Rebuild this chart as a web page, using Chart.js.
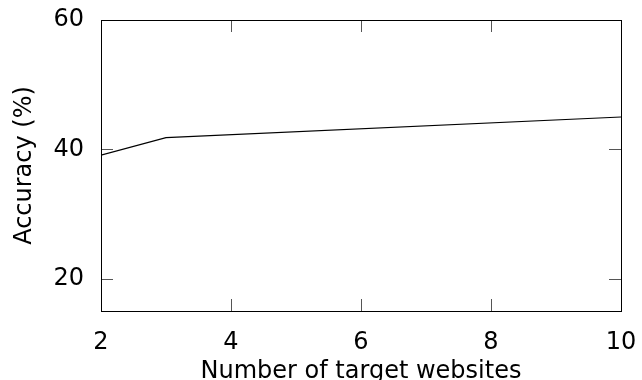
<!DOCTYPE html>
<html>
<head>
<meta charset="utf-8">
<script src="https://cdn.jsdelivr.net/npm/chart.js@4"></script>
<style>
  html, body { margin: 0; padding: 0; background: #fff; }
  #wrap { width: 642px; height: 380px; }
</style>
</head>
<body>
<div id="wrap"><canvas id="chart" width="642" height="380"></canvas></div>
<script>
// données
const websites = [2, 3, 10];
const accuracy = [39.1, 41.8, 45.0];
const xTicks = [2, 4, 6, 8, 10];
const yTicks = [20, 40, 60];

const FONT = "'DejaVu Sans', sans-serif";

// cadre + petites graduations vers l'intérieur (gnuplot style)
const frameTicks = {
  id: 'frameTicks',
  afterDraw(chart) {
    const { ctx, chartArea: a, scales: { x, y } } = chart;
    const len = 12;
    ctx.save();
    ctx.strokeStyle = '#555';
    ctx.lineWidth = 1;
    ctx.beginPath();
    xTicks.forEach(v => {
      const px = Math.round(x.getPixelForValue(v)) + 0.5;
      ctx.moveTo(px, a.bottom); ctx.lineTo(px, a.bottom - len);
      ctx.moveTo(px, a.top); ctx.lineTo(px, a.top + len);
    });
    yTicks.forEach(v => {
      const py = Math.round(y.getPixelForValue(v)) + 0.5;
      ctx.moveTo(a.left, py); ctx.lineTo(a.left + len, py);
      ctx.moveTo(a.right, py); ctx.lineTo(a.right - len, py);
    });
    ctx.stroke();
    ctx.strokeStyle = '#000';
    ctx.strokeRect(Math.round(a.left) + 0.5, Math.round(a.top) + 0.5,
      Math.round(a.right - a.left), Math.round(a.bottom - a.top));
    ctx.restore();
  }
};

new Chart(document.getElementById('chart'), {
  type: 'line',
  data: {
    datasets: [{
      data: websites.map((w, i) => ({ x: w, y: accuracy[i] })),
      borderColor: '#000',
      borderWidth: 1.2,
      pointRadius: 0,
      tension: 0,
      fill: false
    }]
  },
  options: {
    responsive: false,
    animation: false,
    layout: { padding: { top: 20, right: 21, left: 0, bottom: 0 } },
    plugins: { legend: { display: false }, tooltip: { enabled: false } },
    scales: {
      x: {
        type: 'linear',
        min: 2, max: 10,
        afterBuildTicks: s => { s.ticks = xTicks.map(v => ({ value: v })); },
        afterFit: s => { s.height = 69; s.paddingLeft = 0; s.paddingRight = 0; },
        grid: { display: false, drawTicks: false },
        border: { display: false },
        ticks: { color: '#000', font: { family: FONT, size: 24 }, padding: 17, maxRotation: 0 },
        title: {
          display: true, text: 'Number of target websites', color: '#000',
          font: { family: FONT, size: 24 }, padding: { top: 0, bottom: -6 }
        }
      },
      y: {
        min: 15, max: 60,
        afterBuildTicks: s => { s.ticks = yTicks.map(v => ({ value: v })); },
        afterFit: s => { s.width = 101; s.paddingTop = 0; s.paddingBottom = 0; },
        grid: { display: false, drawTicks: false },
        border: { display: false },
        ticks: { color: '#000', font: { family: FONT, size: 24 }, padding: 17 },
        title: {
          display: true, text: 'Accuracy (%)', color: '#000',
          font: { family: FONT, size: 24 }, padding: { top: 10, bottom: 0 }
        }
      }
    }
  },
  plugins: [frameTicks]
});
</script>
</body>
</html>
